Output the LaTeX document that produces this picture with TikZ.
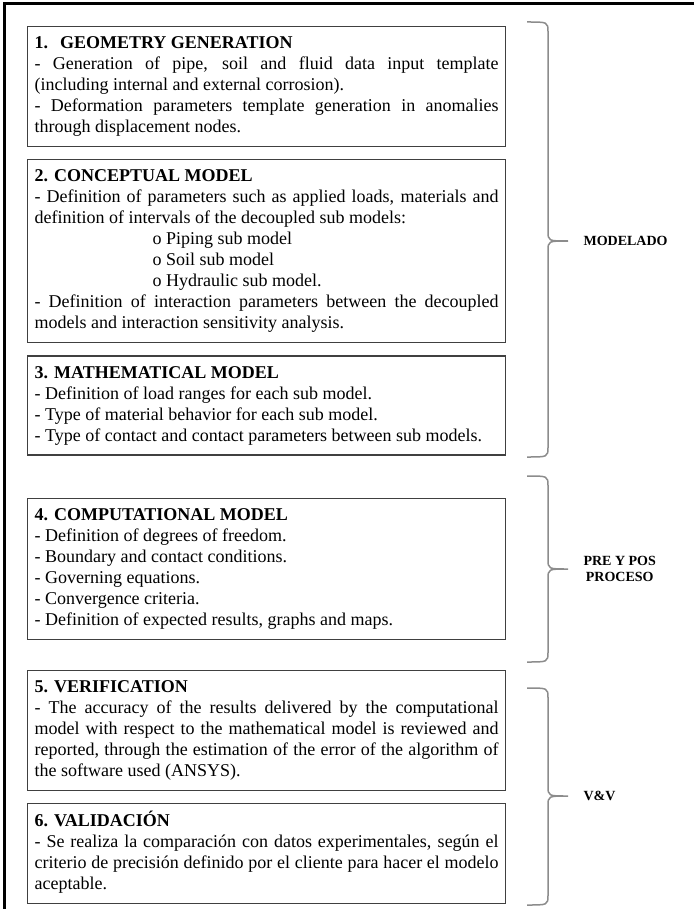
\documentclass[tikz,border=0pt]{standalone}
\usepackage{fontspec}
\setmainfont{Liberation Serif}
\usetikzlibrary{positioning}
\hbadness=10000
\tolerance=10000
\hyphenpenalty=10000

\begin{document}
\begin{tikzpicture}[x=1pt,y=-1pt,node distance=12pt,
    box/.style={draw=black!75,line width=1.2pt,rectangle,anchor=north west,
      text width=464pt,inner xsep=7pt,inner ysep=7.5pt,align=justify,
      font=\fontsize{18}{21}\selectfont,
      execute at begin node=\strut,execute at end node=\strut},
    brc/.style={draw=black!45,line width=1.5pt},
    lbl/.style={font=\fontsize{14}{16}\selectfont\bfseries,anchor=west,align=center}]
  \useasboundingbox (0,0) rectangle (694,909);
  % outer frame
  \draw[line width=2.5pt] (694,3.5) -- (4.5,3.5) -- (4.5,909);

  \node[box] (b1) at (27,26) {\textbf{1.\hspace{12pt}GEOMETRY GENERATION}\\
    - Generation of pipe, soil and fluid data input template \linebreak
    (including internal and external corrosion).\\
    - Deformation parameters template generation in anomalies \linebreak
    through displacement nodes.};
  \node[box] (b2) [below=of b1] {\textbf{2. CONCEPTUAL MODEL}\\
    - Definition of parameters such as applied loads, materials and \linebreak
    definition of intervals of the decoupled sub models:\\
    \hspace*{118pt}o Piping sub model\\
    \hspace*{118pt}o Soil sub model\\
    \hspace*{118pt}o Hydraulic sub model.\\
    - Definition of interaction parameters between the decoupled \linebreak
    models and interaction sensitivity analysis.};
  \node[box] (b3) [below=of b2] {\textbf{3. MATHEMATICAL MODEL}\\
    - Definition of load ranges for each sub model.\\
    - Type of material behavior for each sub model.\\
    - Type of contact and contact parameters between sub models.};
  \node[box] (b4) [below=42pt of b3] {\textbf{4. COMPUTATIONAL MODEL}\\
    - Definition of degrees of freedom.\\
    - Boundary and contact conditions.\\
    - Governing equations.\\
    - Convergence criteria.\\
    - Definition of expected results, graphs and maps.};
  \node[box] (b5) [below=30pt of b4] {\textbf{5. VERIFICATION}\\
    - The accuracy of the results delivered by the computational \linebreak
    model with respect to the mathematical model is reviewed and \linebreak
    reported, through the estimation of the error of the algorithm of \linebreak
    the software used (ANSYS).};
  \node[box] (b6) [below=of b5] {\textbf{6. VALIDACIÓN}\\
    - Se realiza la comparación con datos experimentales, según el \linebreak
    criterio de precisión definido por el cliente para hacer el modelo \linebreak
    aceptable.};

  % braces
  \draw[brc] (527,22) .. controls (548,22) .. (548,32) -- (548,231)
    .. controls (548,241) .. (568,241) .. controls (548,241) .. (548,251)
    -- (548,447) .. controls (548,457) .. (527,457);
  \draw[brc] (527,476) .. controls (548,476) .. (548,486) -- (548,559)
    .. controls (548,569) .. (568,569) .. controls (548,569) .. (548,579)
    -- (548,652) .. controls (548,662) .. (527,662);
  \draw[brc] (527,688) .. controls (548,688) .. (548,698) -- (548,786)
    .. controls (548,796) .. (568,796) .. controls (548,796) .. (548,806)
    -- (548,895) .. controls (548,905) .. (527,905);

  \node[lbl] (mod) at (580,241) {MODELADO};
  \node[lbl] (pre) at (580,569) {PRE Y POS\\PROCESO};
  \node[lbl] (vv) at (580,796) {V\&V};
\end{tikzpicture}
\end{document}
